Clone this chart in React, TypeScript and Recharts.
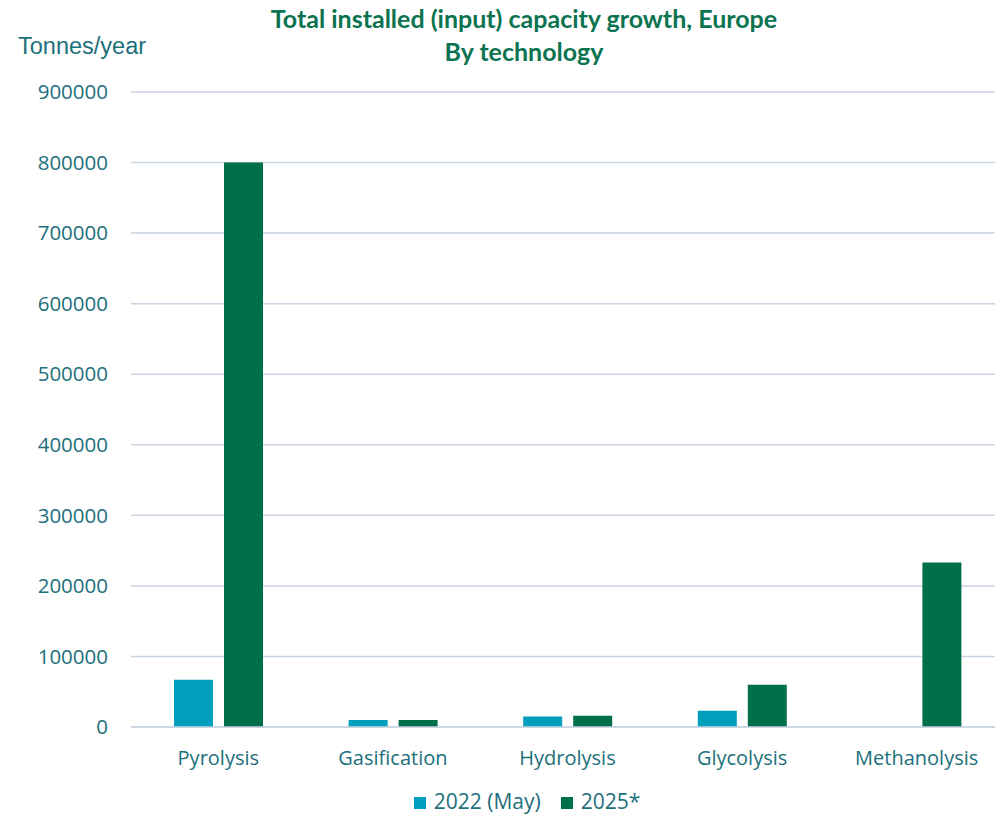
import { BarChart, Bar, XAxis, YAxis, CartesianGrid, Legend } from 'recharts'

const categories = ['Pyrolysis', 'Gasification', 'Hydrolysis', 'Glycolysis', 'Methanolysis']
const may2022 = [67000, 10000, 15000, 23000, 0]
const y2025 = [800000, 10000, 16000, 60000, 233000]
const yTicks = [0, 100000, 200000, 300000, 400000, 500000, 600000, 700000, 800000, 900000]

const data = categories.map((c, i) => ({ name: c, may2022: may2022[i], y2025: y2025[i] }))

const teal = '#1d6f7c'
const font = '"Open Sans", sans-serif'

export default function App() {
  return (
    <div style={{ position: 'absolute', top: 0, left: 0, width: 995, height: 814, overflow: 'hidden', background: '#fff', fontFamily: font }}>
      {/* title */}
      <div style={{ position: 'absolute', top: 2, left: 0, width: 1048, textAlign: 'center', color: '#0b7350', fontWeight: 700, fontSize: 25, lineHeight: '33px', fontFamily: 'Lato, sans-serif' }}>
        Total installed (input) capacity growth, Europe
        <br />
        By technology
      </div>
      <div style={{ position: 'absolute', top: 33, left: 18, color: teal, fontSize: 23.5, fontFamily: '"Liberation Sans Narrow", sans-serif' }}>
        Tonnes/year
      </div>
      <BarChart width={1004} height={814} data={data} margin={{ top: 92, right: 0, bottom: 0, left: 0 }} barGap={11} barCategoryGap="24.5%">
        <CartesianGrid vertical={false} stroke="#c9d5e2" strokeWidth={1.5} />
        <XAxis dataKey="name" axisLine={{ stroke: '#c9d5e2', strokeWidth: 1.5 }} tickLine={false} tickMargin={18} height={61} tick={{ fill: teal, fontSize: 20, fontFamily: font }} />
        <YAxis ticks={yTicks} domain={[0, 900000]} interval={0} width={131} axisLine={false} tickLine={false} tickSize={0} tickMargin={23} tick={{ fill: teal, fontSize: 20.5, fontFamily: font }} />
        <Legend verticalAlign="bottom" iconType="square" iconSize={12} wrapperStyle={{ fontSize: 21, fontFamily: font, lineHeight: '26px', paddingLeft: 35 }} formatter={(v) => <span style={{ color: teal, marginLeft: 4, marginRight: 10 }}>{v}</span>} />
        <Bar dataKey="may2022" name="2022 (May)" fill="#009fbd" barSize={39} isAnimationActive={false} />
        <Bar dataKey="y2025" name="2025*" fill="#00704a" barSize={39} isAnimationActive={false} />
      </BarChart>
    </div>
  )
}
